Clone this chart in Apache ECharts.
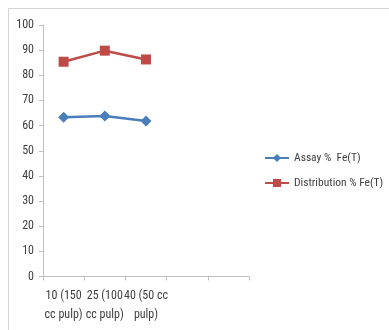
<!DOCTYPE html>
<html>
<head>
<meta charset="utf-8">
<script src="https://cdn.jsdelivr.net/npm/echarts@6/dist/echarts.min.js"></script>
<style>
  html, body { margin: 0; padding: 0; background: #fff; }
  #chart { width: 389px; height: 330px; }
</style>
</head>
<body>
<div id="chart"></div>
<script>
// Pulp density categories (two empty slots keep the axis width)
const categories = ['10 (150\ncc pulp)', '25 (100\ncc pulp)', '40 (50 cc\npulp)', '', ''];
const assayFe = [63.3, 63.8, 61.8];
const distributionFe = [85.4, 89.8, 86.3];
const yTicks = { min: 0, max: 100, step: 10 };

const FONT = '"Roboto Condensed", "Liberation Sans", Arial, sans-serif';
const TEXT = '#404040';
const AXIS = '#bfbfbf';
const chart = echarts.init(document.getElementById('chart'), null, { renderer: 'canvas' });

chart.setOption({
  animation: false,
  backgroundColor: '#fff',
  textStyle: { fontFamily: FONT },
  graphic: [{
    type: 'rect',
    shape: { x: 8.5, y: 8.5, width: 420, height: 400 },
    style: { fill: 'none', stroke: '#d4d4d4', lineWidth: 1 },
    silent: true
  }],
  grid: { left: 43, top: 25, right: 140, bottom: 53.5, containLabel: false },
  legend: {
    orient: 'vertical',
    left: 264,
    top: 152,
    padding: 0,
    itemWidth: 24,
    itemHeight: 10,
    itemGap: 13,
    textStyle: { fontFamily: FONT, fontSize: 11.5, color: TEXT },
    data: ['Assay %  Fe(T)', 'Distribution % Fe(T)']
  },
  xAxis: {
    type: 'category',
    data: categories,
    boundaryGap: true,
    axisLine: { lineStyle: { color: AXIS, width: 1 } },
    axisTick: { show: true, length: 4, inside: false, lineStyle: { color: AXIS } },
    axisLabel: {
      interval: 0,
      color: TEXT,
      fontSize: 12,
      fontFamily: FONT,
      lineHeight: 19,
      margin: 10
    },
    splitLine: { show: false }
  },
  yAxis: {
    type: 'value',
    min: yTicks.min,
    max: yTicks.max,
    interval: yTicks.step,
    axisLine: { show: true, lineStyle: { color: AXIS, width: 1 } },
    axisTick: { show: true, length: 4, lineStyle: { color: AXIS } },
    axisLabel: { color: TEXT, fontSize: 12, fontFamily: FONT, margin: 9 },
    splitLine: { show: false }
  },
  series: [
    {
      name: 'Assay %  Fe(T)',
      type: 'line',
      data: assayFe,
      symbol: 'diamond',
      symbolSize: 11,
      lineStyle: { color: '#4a7ebb', width: 2.5 },
      itemStyle: { color: '#4a7ebb' }
    },
    {
      name: 'Distribution % Fe(T)',
      type: 'line',
      data: distributionFe,
      symbol: 'rect',
      symbolSize: 10,
      lineStyle: { color: '#be4b48', width: 2.5 },
      itemStyle: { color: '#be4b48' }
    }
  ]
});
</script>
</body>
</html>
